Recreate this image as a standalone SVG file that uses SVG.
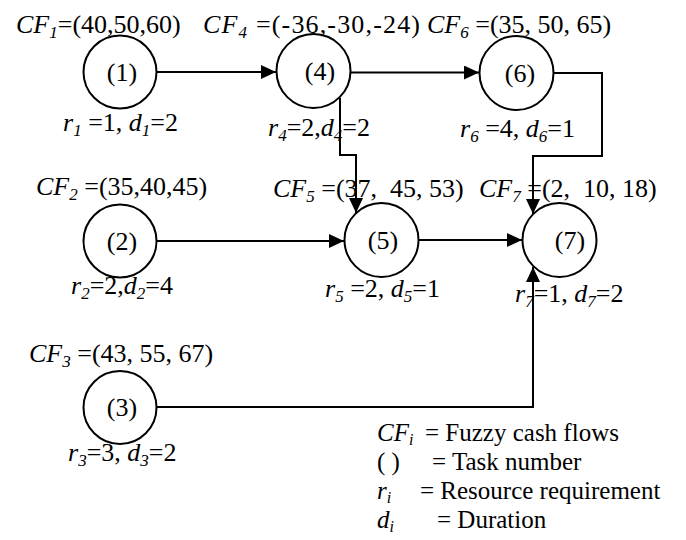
<svg xmlns="http://www.w3.org/2000/svg" width="686" height="540" viewBox="0 0 686 540">
  <defs>
    <style>
      text { font-family: "Liberation Serif", "Times New Roman", serif; font-size: 26px; fill: #000; white-space: pre; }
      .i { font-style: italic; }
      .s { font-size: 17px; font-style: italic; }
      .node circle { fill: #fff; stroke: #000; stroke-width: 2; }
      .node text { text-anchor: middle; }
      #legend text { font-size: 25px; }
      #legend .s { font-size: 16px; }
      #edges path { fill: none; stroke: #000; stroke-width: 2; marker-end: url(#arrow); }
    </style>
    <marker id="arrow" markerUnits="userSpaceOnUse" viewBox="0 0 15 14" refX="15" refY="7" markerWidth="15" markerHeight="14" orient="auto">
      <path d="M0,0 L15,7 L0,14 z" fill="#000"/>
    </marker>
  </defs>

  <rect width="686" height="540" fill="#fff"/>

  <!-- precedence links -->
  <g id="edges">
    <path d="M157,72 H276"/>
    <path d="M351,72.5 H479"/>
    <path d="M340,98 V155 H356 V213"/>
    <path d="M554,73 H602 V156 H533 V214"/>
    <path d="M157,241 H344"/>
    <path d="M419,240 H522"/>
    <path d="M157,407 H533 V267"/>
  </g>

  <!-- tasks -->
  <g id="task1" class="node">
    <circle cx="120" cy="72" r="36.5"/>
    <text x="122" y="81">(1)</text>
  </g>
  <g id="task4" class="node">
    <circle cx="313.5" cy="71" r="37"/>
    <text x="320" y="80">(4)</text>
  </g>
  <g id="task6" class="node">
    <circle cx="516.5" cy="73" r="37"/>
    <text x="520" y="82">(6)</text>
  </g>
  <g id="task2" class="node">
    <circle cx="120" cy="241" r="36.5"/>
    <text x="122" y="250">(2)</text>
  </g>
  <g id="task5" class="node">
    <circle cx="381.5" cy="240" r="37"/>
    <text x="383" y="249">(5)</text>
  </g>
  <g id="task7" class="node">
    <circle cx="559.5" cy="240" r="37"/>
    <text x="570" y="249">(7)</text>
  </g>
  <g id="task3" class="node">
    <circle cx="120" cy="407.5" r="36.5"/>
    <text x="122" y="416">(3)</text>
  </g>

  <!-- cash flow labels -->
  <g id="cashflows">
    <text x="16" y="33"><tspan class="i">CF</tspan><tspan class="s" dy="5">1</tspan><tspan dy="-5">=(40,50,60)</tspan></text>
    <text x="203" y="33" textLength="217" lengthAdjust="spacing"><tspan class="i">CF</tspan><tspan class="s" dy="5">4</tspan><tspan dy="-5"> =(-36,-30,-24)</tspan></text>
    <text x="427" y="33"><tspan class="i">CF</tspan><tspan class="s" dy="5">6</tspan><tspan dy="-5"> =(35, 50, 65)</tspan></text>
    <text x="36" y="195"><tspan class="i">CF</tspan><tspan class="s" dy="5">2</tspan><tspan dy="-5"> =(35,40,45)</tspan></text>
    <text x="273" y="197"><tspan class="i">CF</tspan><tspan class="s" dy="5">5</tspan><tspan dy="-5"> =(37,  45, 53)</tspan></text>
    <text x="479" y="197"><tspan class="i">CF</tspan><tspan class="s" dy="5">7</tspan><tspan dy="-5"> =(2,  10, 18)</tspan></text>
    <text x="29" y="362"><tspan class="i">CF</tspan><tspan class="s" dy="5">3</tspan><tspan dy="-5"> =(43, 55, 67)</tspan></text>
  </g>

  <!-- resource / duration labels -->
  <g id="resources">
    <text x="63" y="131"><tspan class="i">r</tspan><tspan class="s" dy="5">1</tspan><tspan dy="-5"> =1, </tspan><tspan class="i">d</tspan><tspan class="s" dy="5">1</tspan><tspan dy="-5">=2</tspan></text>
    <text x="268" y="136"><tspan class="i">r</tspan><tspan class="s" dy="5">4</tspan><tspan dy="-5">=2,</tspan><tspan class="i">d</tspan><tspan class="s" dy="5">4</tspan><tspan dy="-5">=2</tspan></text>
    <text x="460" y="137"><tspan class="i">r</tspan><tspan class="s" dy="5">6</tspan><tspan dy="-5"> =4, </tspan><tspan class="i">d</tspan><tspan class="s" dy="5">6</tspan><tspan dy="-5">=1</tspan></text>
    <text x="71" y="294"><tspan class="i">r</tspan><tspan class="s" dy="5">2</tspan><tspan dy="-5">=2,</tspan><tspan class="i">d</tspan><tspan class="s" dy="5">2</tspan><tspan dy="-5">=4</tspan></text>
    <text x="325" y="297"><tspan class="i">r</tspan><tspan class="s" dy="5">5</tspan><tspan dy="-5"> =2, </tspan><tspan class="i">d</tspan><tspan class="s" dy="5">5</tspan><tspan dy="-5">=1</tspan></text>
    <text x="515" y="302"><tspan class="i">r</tspan><tspan class="s" dy="5">7</tspan><tspan dy="-5">=1, </tspan><tspan class="i">d</tspan><tspan class="s" dy="5">7</tspan><tspan dy="-5">=2</tspan></text>
    <text x="68" y="461"><tspan class="i">r</tspan><tspan class="s" dy="5">3</tspan><tspan dy="-5">=3, </tspan><tspan class="i">d</tspan><tspan class="s" dy="5">3</tspan><tspan dy="-5">=2</tspan></text>
  </g>

  <!-- legend -->
  <g id="legend">
    <text x="377" y="441"><tspan class="i">CF</tspan><tspan class="s" dy="4">i</tspan></text>
    <text x="425" y="441">= Fuzzy cash flows</text>
    <text x="377" y="470">( )</text>
    <text x="432" y="470">= Task number</text>
    <text x="377" y="499"><tspan class="i">r</tspan><tspan class="s" dy="4">i</tspan></text>
    <text x="420" y="499">= Resource requirement</text>
    <text x="377" y="528"><tspan class="i">d</tspan><tspan class="s" dy="4">i</tspan></text>
    <text x="437" y="528">= Duration</text>
  </g>
</svg>
